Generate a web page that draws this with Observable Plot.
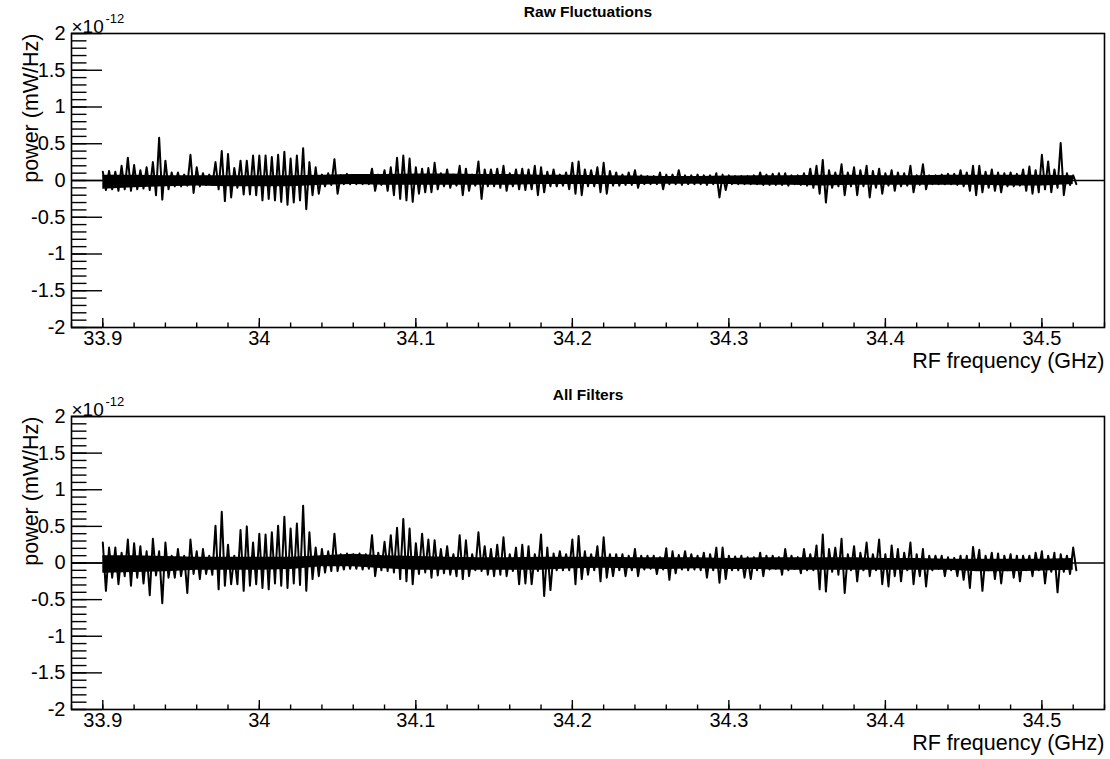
<!DOCTYPE html>
<html>
<head>
<meta charset="utf-8">
<script src="https://cdn.jsdelivr.net/npm/d3@7"></script>
<script src="https://cdn.jsdelivr.net/npm/@observablehq/plot@0.6"></script>
<style>
  html, body { margin: 0; padding: 0; background: white; }
  #chart svg { display: block; }
</style>
</head>
<body>
<div id="chart"></div>
<script>
// Frequency grid: bins of 0.004 GHz starting at 33.9 GHz; for each bin the max (hi) and min (lo)
// of the trace, in units of 1e-12 mW/Hz.
const F0 = 33.9;
const BIN = 0.004;

const rawHi = [
  0.12,0.13,0.12,0.2,0.31,0.21,0.14,0.18,0.25,0.58,
  0.27,0.11,0.11,0.08,0.35,0.18,0.1,0.08,0.25,0.40,
  0.36,0.17,0.27,0.27,0.34,0.34,0.34,0.32,0.35,0.39,
  0.3,0.34,0.44,0.25,0.18,0.08,0.1,0.29,0.07,0.09,
  0.07,0.06,0.07,0.16,0.08,0.14,0.18,0.31,0.34,0.3,
  0.18,0.16,0.17,0.24,0.1,0.15,0.08,0.2,0.16,0.08,
  0.26,0.15,0.15,0.16,0.2,0.1,0.15,0.16,0.15,0.2,
  0.18,0.12,0.15,0.08,0.11,0.24,0.26,0.15,0.14,0.18,
  0.24,0.13,0.11,0.08,0.11,0.14,0.07,0.06,0.06,0.11,
  0.08,0.08,0.14,0.07,0.07,0.08,0.07,0.07,0.1,0.08,
  0.07,0.06,0.06,0.06,0.07,0.11,0.08,0.09,0.1,0.1,
  0.07,0.07,0.1,0.16,0.2,0.28,0.14,0.11,0.22,0.11,
  0.18,0.14,0.2,0.13,0.16,0.1,0.14,0.11,0.1,0.2,
  0.07,0.22,0.07,0.07,0.08,0.09,0.09,0.14,0.11,0.2,
  0.2,0.12,0.15,0.11,0.1,0.11,0.09,0.15,0.19,0.14,
  0.35,0.26,0.15,0.51,0.1,0.07
];
const rawLo = [
  -0.13,-0.12,-0.14,-0.12,-0.14,-0.12,-0.11,-0.13,-0.2,-0.26,
  -0.12,-0.08,-0.08,-0.07,-0.17,-0.08,-0.06,-0.06,-0.12,-0.28,
  -0.23,-0.1,-0.19,-0.19,-0.2,-0.27,-0.25,-0.27,-0.29,-0.33,
  -0.3,-0.27,-0.39,-0.2,-0.18,-0.08,-0.06,-0.18,-0.05,-0.05,
  -0.05,-0.05,-0.05,-0.14,-0.06,-0.14,-0.2,-0.25,-0.27,-0.29,
  -0.18,-0.16,-0.16,-0.12,-0.08,-0.1,-0.07,-0.2,-0.14,-0.07,
  -0.25,-0.08,-0.08,-0.1,-0.14,-0.08,-0.12,-0.13,-0.12,-0.2,
  -0.16,-0.08,-0.08,-0.07,-0.12,-0.18,-0.2,-0.08,-0.08,-0.16,
  -0.18,-0.07,-0.07,-0.06,-0.06,-0.1,-0.05,-0.05,-0.05,-0.12,
  -0.05,-0.05,-0.06,-0.05,-0.05,-0.05,-0.06,-0.05,-0.23,-0.13,
  -0.05,-0.05,-0.05,-0.05,-0.05,-0.06,-0.06,-0.06,-0.06,-0.07,
  -0.05,-0.06,-0.07,-0.1,-0.18,-0.3,-0.1,-0.08,-0.2,-0.08,
  -0.2,-0.08,-0.23,-0.1,-0.18,-0.07,-0.14,-0.08,-0.07,-0.16,
  -0.06,-0.12,-0.05,-0.05,-0.05,-0.05,-0.06,-0.08,-0.14,-0.2,
  -0.16,-0.1,-0.14,-0.16,-0.08,-0.08,-0.07,-0.14,-0.18,-0.16,
  -0.12,-0.16,-0.1,-0.2,-0.06,-0.05
];
const filtHi = [
  0.28,0.21,0.21,0.14,0.32,0.27,0.23,0.16,0.33,0.16,
  0.28,0.1,0.19,0.1,0.32,0.16,0.19,0.1,0.51,0.7,
  0.25,0.1,0.45,0.5,0.28,0.4,0.39,0.42,0.51,0.63,
  0.47,0.54,0.78,0.42,0.21,0.19,0.16,0.4,0.12,0.13,
  0.12,0.13,0.12,0.38,0.14,0.29,0.38,0.48,0.6,0.47,
  0.27,0.4,0.32,0.31,0.19,0.23,0.12,0.38,0.31,0.12,
  0.42,0.23,0.19,0.25,0.35,0.12,0.21,0.25,0.23,0.12,
  0.39,0.21,0.13,0.16,0.12,0.32,0.37,0.16,0.12,0.23,
  0.35,0.12,0.12,0.12,0.1,0.19,0.1,0.1,0.1,0.08,
  0.2,0.16,0.11,0.16,0.12,0.1,0.14,0.12,0.21,0.21,
  0.1,0.09,0.1,0.08,0.08,0.14,0.1,0.1,0.08,0.19,
  0.1,0.08,0.19,0.12,0.24,0.39,0.19,0.21,0.33,0.12,
  0.23,0.14,0.28,0.12,0.32,0.12,0.24,0.19,0.14,0.28,
  0.12,0.19,0.1,0.1,0.1,0.08,0.07,0.1,0.1,0.22,
  0.18,0.1,0.14,0.13,0.1,0.12,0.1,0.1,0.1,0.14,
  0.16,0.1,0.14,0.12,0.1,0.21
];
const filtLo = [
  -0.38,-0.2,-0.29,-0.18,-0.31,-0.2,-0.28,-0.44,-0.17,-0.55,
  -0.2,-0.2,-0.18,-0.41,-0.15,-0.22,-0.15,-0.16,-0.36,-0.31,
  -0.29,-0.29,-0.38,-0.31,-0.29,-0.34,-0.36,-0.28,-0.31,-0.34,
  -0.28,-0.3,-0.38,-0.22,-0.18,-0.13,-0.11,-0.11,-0.09,-0.08,
  -0.08,-0.09,-0.08,-0.18,-0.1,-0.11,-0.13,-0.22,-0.25,-0.29,
  -0.15,-0.13,-0.2,-0.17,-0.14,-0.16,-0.18,-0.22,-0.18,-0.1,
  -0.11,-0.16,-0.18,-0.16,-0.18,-0.11,-0.29,-0.28,-0.29,-0.11,
  -0.45,-0.37,-0.1,-0.1,-0.1,-0.29,-0.22,-0.16,-0.1,-0.25,
  -0.2,-0.18,-0.1,-0.18,-0.1,-0.18,-0.09,-0.08,-0.15,-0.09,
  -0.23,-0.14,-0.09,-0.1,-0.09,-0.1,-0.2,-0.1,-0.27,-0.22,
  -0.1,-0.1,-0.2,-0.22,-0.1,-0.18,-0.09,-0.08,-0.16,-0.1,
  -0.08,-0.14,-0.1,-0.1,-0.36,-0.39,-0.12,-0.16,-0.41,-0.1,
  -0.25,-0.1,-0.18,-0.1,-0.29,-0.32,-0.18,-0.25,-0.1,-0.29,
  -0.18,-0.32,-0.1,-0.08,-0.18,-0.1,-0.18,-0.23,-0.34,-0.1,
  -0.38,-0.1,-0.22,-0.28,-0.1,-0.2,-0.25,-0.1,-0.18,-0.1,
  -0.28,-0.12,-0.4,-0.12,-0.15,-0.1
];

const CORE_STEP = 0.02;
const rawCoreHi = [0.07,0.07,0.065,0.065,0.065,0.065,0.065,0.07,0.08,0.08,0.09,0.09,0.08,0.08,0.07,0.07,
                   0.065,0.06,0.055,0.055,0.06,0.065,0.065,0.07,0.07,0.065,0.065,0.07,0.07,0.07,0.07,0.065];
const rawCoreLo = [-0.12,-0.1,-0.085,-0.075,-0.085,-0.085,-0.085,-0.065,-0.055,-0.065,-0.065,-0.065,-0.065,-0.065,-0.055,-0.055,
                   -0.055,-0.055,-0.05,-0.05,-0.055,-0.065,-0.065,-0.075,-0.065,-0.065,-0.065,-0.065,-0.065,-0.075,-0.075,-0.055];
const filtCoreHi = [0.1,0.1,0.09,0.08,0.08,0.08,0.08,0.1,0.12,0.1,0.09,0.08,0.07,0.07,0.08,0.08,
                    0.08,0.07,0.07,0.07,0.06,0.07,0.07,0.07,0.07,0.06,0.06,0.05,0.05,0.05,0.05,0.06];
const filtCoreLo = [-0.14,-0.13,-0.12,-0.1,-0.1,-0.1,-0.09,-0.05,-0.05,-0.08,-0.1,-0.1,-0.1,-0.1,-0.1,-0.08,
                    -0.07,-0.08,-0.09,-0.08,-0.09,-0.09,-0.1,-0.1,-0.1,-0.1,-0.1,-0.1,-0.12,-0.12,-0.11,-0.1];

const xDomain = [33.88, 34.54];
const yDomain = [-2, 2];
const xMajor = [33.9, 34, 34.1, 34.2, 34.3, 34.4, 34.5];
const xMinor = d3.range(0, 34).map(i => +(33.88 + i * 0.02).toFixed(2));
const yMajor = [-2, -1.5, -1, -0.5, 0, 0.5, 1, 1.5, 2];
const yMinor = d3.range(-20, 21).map(i => i / 10);

const FONT = "'Liberation Sans', Arial, Helvetica, sans-serif";

function panel({title, hi, lo, coreHi, coreLo, height, marginBottom}) {
  const W = 1110, mL = 71, mR = 6, mT = 33;
  const plotW = W - mL - mR;
  const plotH = height - mT - marginBottom;
  const rows = hi.flatMap((h, k) => [
    {f: F0 + BIN * k, v: h},
    {f: F0 + BIN * k + BIN / 2, v: lo[k]}
  ]);
  const core = coreHi.map((h, k) => ({f: F0 + CORE_STEP * k, hi: h, lo: coreLo[k]}));
  return Plot.plot({
    width: W, height,
    marginLeft: mL, marginRight: mR, marginTop: mT, marginBottom,
    style: {fontFamily: FONT, fontSize: "20px", background: "white", color: "black", overflow: "visible"},
    x: {domain: xDomain},
    y: {domain: yDomain},
    marks: [
      Plot.ruleY([0], {stroke: "black", strokeWidth: 1.5}),
      Plot.areaY(core, {x: "f", y1: "lo", y2: "hi", fill: "black"}),
      Plot.line(rows, {x: "f", y: "v", stroke: "black", strokeWidth: 2}),
      Plot.ruleY(yMinor, {stroke: "black", strokeWidth: 1.4, insetRight: plotW - 15.5}),
      Plot.ruleY(yMajor, {stroke: "black", strokeWidth: 1.4, insetRight: plotW - 31}),
      Plot.ruleX(xMinor, {stroke: "black", strokeWidth: 1.4, insetTop: plotH - 4.5}),
      Plot.ruleX(xMajor, {stroke: "black", strokeWidth: 1.4, insetTop: plotH - 9}),
      Plot.axisY({ticks: yMajor, tickSize: 0, tickPadding: 6, tickFormat: d => String(d), label: null, fontSize: 20}),
      Plot.axisX({ticks: xMajor, tickSize: 0, tickPadding: 3, tickFormat: d => String(d), label: null, fontSize: 20}),
      Plot.frame({stroke: "black", strokeWidth: 1.6}),
      Plot.text([title], {text: d => d, frameAnchor: "top", dy: -28, fontWeight: "bold", fontSize: 15.5}),
      Plot.text(["RF frequency (GHz)"], {text: d => d, frameAnchor: "bottom-right", textAnchor: "end", dy: 40, fontSize: 21.5}),
      Plot.text(["power (mW/Hz)"], {text: d => d, frameAnchor: "top-left", textAnchor: "end", rotate: -90, dx: -49, fontSize: 21.5}),
      Plot.text(["×10"], {text: d => d, frameAnchor: "top-left", textAnchor: "start", lineAnchor: "bottom", dx: 0, dy: -1, fontSize: 19}),
      Plot.text(["-12"], {text: d => d, frameAnchor: "top-left", textAnchor: "start", lineAnchor: "bottom", dx: 34, dy: -11, fontSize: 13})
    ]
  });
}

const chart = document.getElementById("chart");
chart.append(panel({title: "Raw Fluctuations", hi: rawHi, lo: rawLo, coreHi: rawCoreHi, coreLo: rawCoreLo, height: 383, marginBottom: 56}));
chart.append(panel({title: "All Filters", hi: filtHi, lo: filtLo, coreHi: filtCoreHi, coreLo: filtCoreLo, height: 376, marginBottom: 50}));
</script>
</body>
</html>
